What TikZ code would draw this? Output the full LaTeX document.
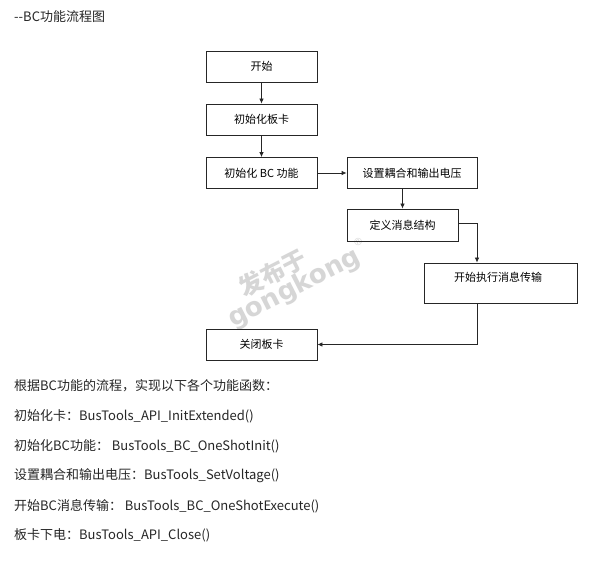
\documentclass[tikz,border=0pt]{standalone}
\usepackage{fontspec}
\newfontfamily\cjk{Noto Sans CJK SC}
\newfontfamily\wm{DejaVu Sans}
\usetikzlibrary{arrows.meta}
\begin{document}
\begin{tikzpicture}[x=1pt,y=-1pt,
  box/.style={draw=black!85,line width=0.8pt,minimum height=31pt,inner sep=0pt,font=\cjk\fontsize{11}{13}\selectfont},
  arr/.style={draw=black!85,line width=0.8pt,-{Latex[length=5pt,width=4.5pt]}},
  txt/.style={anchor=west,inner sep=0pt,font=\cjk\fontsize{13}{15}\selectfont,text=black!85}]
\useasboundingbox (0,0) rectangle (600,561);
\fill[white] (0,0) rectangle (600,561);
% watermark
\node[rotate=27,text=black!16,inner sep=0pt,align=left] (wm) at (294,276)
  {\hspace*{24pt}{\cjk\bfseries\fontsize{24}{26}\selectfont 发布于}\\[-5pt]
   {\wm\bfseries\fontsize{26}{28}\selectfont gongkong}{\wm\fontsize{10}{12}\selectfont\raisebox{16pt}{®}}};
% title
\node[txt] (title) at (14,17) {--BC功能流程图};
% boxes
\node[box,minimum width=111pt] (b1) at (261.5,66.5) {开始};
\node[box,minimum width=111pt] (b2) at (261.5,119.5) {初始化板卡};
\node[box,minimum width=111pt] (b3) at (261.5,173) {初始化 BC 功能};
\node[box,minimum width=130pt] (b4) at (412,173) {设置耦合和输出电压};
\node[box,minimum width=111pt,minimum height=32pt] (b5) at (402.5,225) {定义消息结构};
\node[draw=black!85,line width=0.8pt,minimum width=153pt,minimum height=40pt,inner sep=0pt] (b6) at (500.5,283) {};
\node[inner sep=0pt,font=\cjk\fontsize{11}{13}\selectfont] (b6t) at (498,277) {开始执行消息传输};
\node[box,minimum width=111pt] (b7) at (261.5,344.5) {关闭板卡};
% connectors
\draw[arr] (b1) -- (b2);
\draw[arr] (b2) -- (b3);
\draw[arr] (b3) -- (b4);
\draw[arr] (b4.south -| b5) -- (b5);
\draw[arr] (b5.east |- 0,223) -| (b6.north -| 477,0);
\draw[arr] (b6.south -| 477,0) |- (b7.east);
% text lines
\node[txt] (l1) at (14,386) {根据BC功能的流程，实现以下各个功能函数：};
\node[txt] (l2) at (14,416) {初始化卡：BusTools\_API\_InitExtended()};
\node[txt] (l3) at (14,446) {初始化BC功能： BusTools\_BC\_OneShotInit()};
\node[txt] (l4) at (14,476) {设置耦合和输出电压：BusTools\_SetVoltage()};
\node[txt] (l5) at (14,506) {开始BC消息传输： BusTools\_BC\_OneShotExecute()};
\node[txt] (l6) at (14,535) {板卡下电：BusTools\_API\_Close()};
\end{tikzpicture}
\end{document}
